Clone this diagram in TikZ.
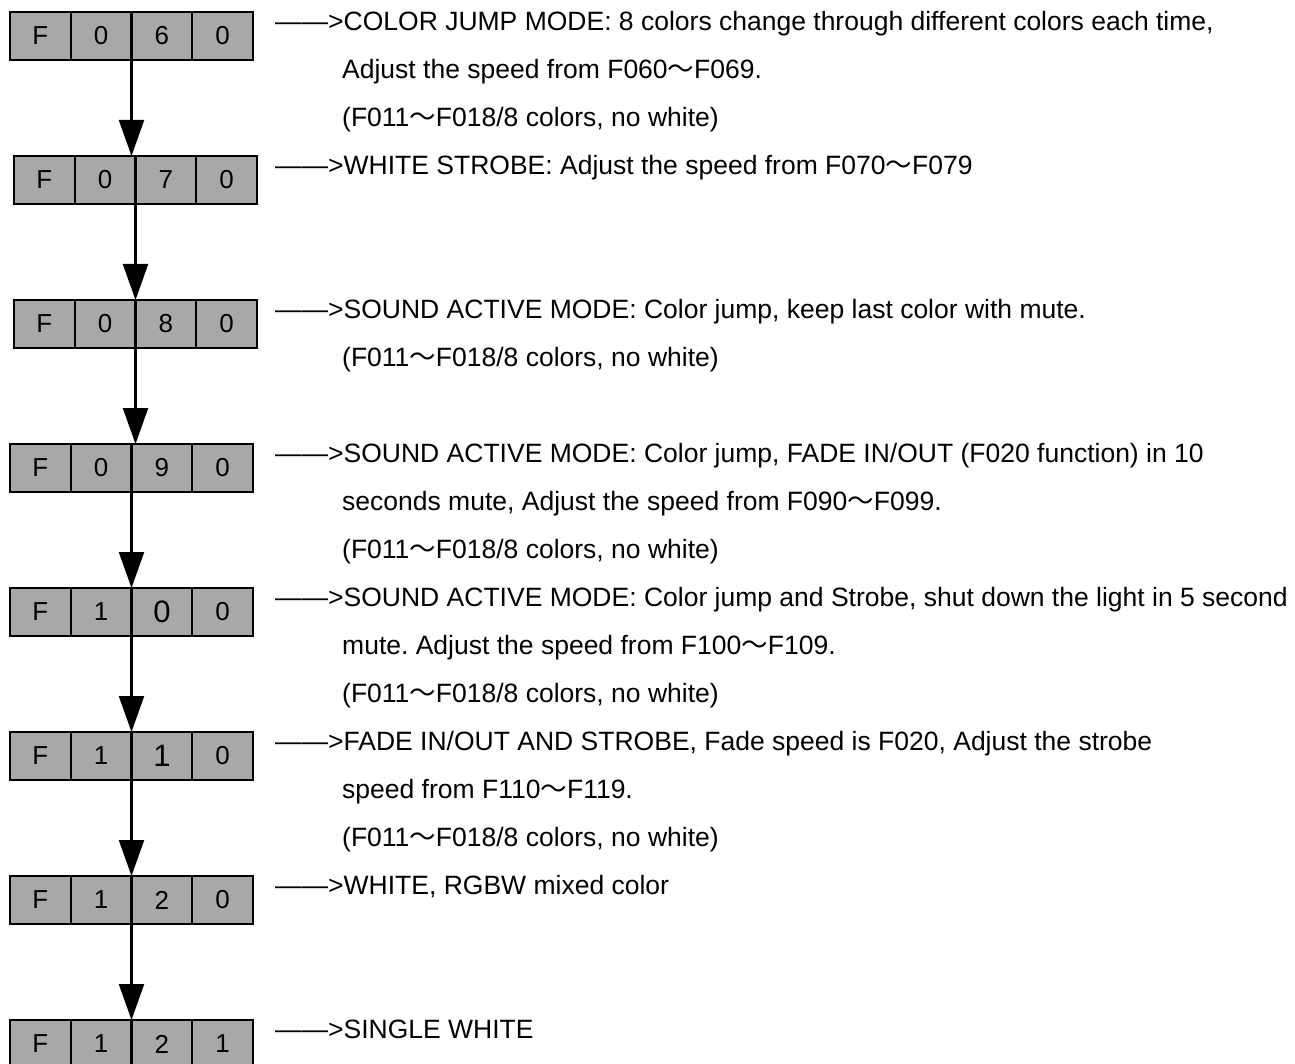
\documentclass[tikz,border=0pt]{standalone}
\usepackage{fontspec}
\setmainfont{Liberation Sans}
\newfontfamily\cjk{Noto Sans CJK SC}
\usetikzlibrary{arrows.meta}
\frenchspacing

\definecolor{cellgray}{RGB}{168,168,168}
\newcommand{\wave}{{\cjk ～}}

\tikzset{
  cell/.style={draw, fill=cellgray, line width=2.4pt, minimum width=60.75pt,
    minimum height=48pt, inner sep=0pt, outer sep=0pt},
  desc/.style={anchor=base west, inner sep=0pt, font=\fontsize{26.5}{30}\selectfont},
  flow/.style={line width=2.2pt, -{Triangle[length=36pt,width=25pt]}},
}

\begin{document}
\begin{tikzpicture}[x=1pt, y=-1pt]
\useasboundingbox (0,0) rectangle (1295,1064);
% code boxes
\foreach \name/\lft/\k/\a/\b/\c/\s in {060/10/0/0/6/0/26, 070/14/1/0/7/0/26,
    080/14/2/0/8/0/26, 090/10/3/0/9/0/26, 100/10/4/1/0/0/31, 110/10/5/1/1/0/31,
    120/10/6/1/2/0/26, 121/10/7/1/2/1/26}{
  \node[cell, font=\fontsize{26}{26}\selectfont] (c\name-1) at (\lft+30.375,36+144*\k) {F};
  \node[cell, font=\fontsize{26}{26}\selectfont, anchor=west] (c\name-2) at (c\name-1.east) {\a};
  \node[cell, font=\fontsize{\s}{\s}\selectfont, anchor=west] (c\name-3) at (c\name-2.east) {\b};
  \node[cell, font=\fontsize{26}{26}\selectfont, anchor=west] (c\name-4) at (c\name-3.east) {\c};
}
% arrows
\foreach \u/\v in {060/070, 070/080, 080/090, 090/100, 100/110, 110/120, 120/121}
  \draw[flow] (c\u-2.south east) -- (c\u-2.south east |- c\v-3.north);
% descriptions
\node[desc] (d060a) at (275,30.5) {——>COLOR JUMP MODE: 8 colors change through different colors each time,};
\node[desc] (d060b) at (342,78.5) {Adjust the speed from F060\wave F069.};
\node[desc] (d060c) at (342,126.5) {(F011\wave F018/8 colors, no white)};
\node[desc] (d070a) at (275,174.5) {——>WHITE STROBE: Adjust the speed from F070\wave F079};
\node[desc] (d080a) at (275,318.5) {——>SOUND ACTIVE MODE: Color jump, keep last color with mute.};
\node[desc] (d080b) at (342,366.5) {(F011\wave F018/8 colors, no white)};
\node[desc] (d090a) at (275,462.5) {——>SOUND ACTIVE MODE: Color jump, FADE IN/OUT (F020 function) in 10};
\node[desc] (d090b) at (342,510.5) {seconds mute, Adjust the speed from F090\wave F099.};
\node[desc] (d090c) at (342,558.5) {(F011\wave F018/8 colors, no white)};
\node[desc] (d100a) at (275,606.5) {——>SOUND ACTIVE MODE: Color jump and Strobe, shut down the light in 5 second};
\node[desc] (d100b) at (342,654.5) {mute. Adjust the speed from F100\wave F109.};
\node[desc] (d100c) at (342,702.5) {(F011\wave F018/8 colors, no white)};
\node[desc] (d110a) at (275,750.5) {——>FADE IN/OUT AND STROBE, Fade speed is F020, Adjust the strobe};
\node[desc] (d110b) at (342,798.5) {speed from F110\wave F119.};
\node[desc] (d110c) at (342,846.5) {(F011\wave F018/8 colors, no white)};
\node[desc] (d120a) at (275,894.5) {——>WHITE, RGBW mixed color};
\node[desc] (d121a) at (275,1038.5) {——>SINGLE WHITE};
\end{tikzpicture}
\end{document}
